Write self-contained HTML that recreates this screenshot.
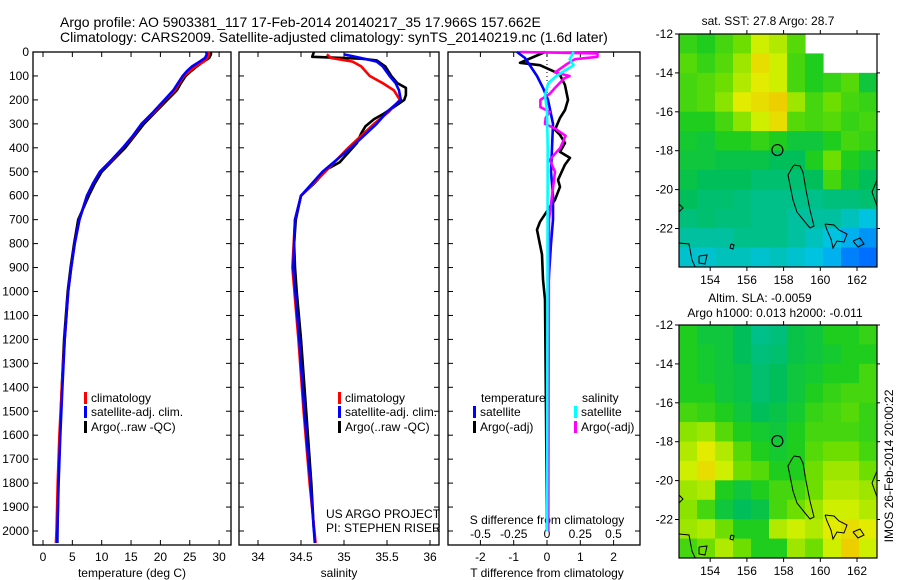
<!DOCTYPE html>
<html><head><meta charset="utf-8"><style>
body{margin:0;background:#fff;}
svg{display:block;font-family:"Liberation Sans",sans-serif;}
</style></head><body>
<svg id="fig" width="900" height="580" xmlns="http://www.w3.org/2000/svg">
<defs>
<clipPath id="clipTop"><rect x="679" y="34" width="198" height="233"/></clipPath>
<clipPath id="clipBot"><rect x="679" y="325" width="198" height="233"/></clipPath>
</defs>
<text x="60" y="27" font-size="14">Argo profile: AO 5903381_117 17-Feb-2014 20140217_35 17.966S 157.662E</text>
<text x="60" y="42" font-size="14">Climatology: CARS2009. Satellite-adjusted climatology: synTS_20140219.nc (1.6d later)</text>
<g id="g"></g>
</svg>
<script>
// ---------- data ----------
const depthT = [0,10,25,40,60,80,100,130,160,200,250,300,350,400,450,500,550,600,700,800,900,1000,1200,1400,1600,1800,2000,2050];
const argoT  = [28.6,28.6,28.3,27.3,26.2,25.2,24.3,23.5,22.8,21.2,19.2,17.2,15.6,14.0,12.0,10.0,8.8,7.8,6.0,5.3,4.7,4.2,3.6,3.2,2.9,2.6,2.45,2.45];
const climT  = [28.2,28.3,28.0,27.4,26.0,25.0,24.0,23.2,22.5,20.8,19.0,16.8,15.4,13.6,11.8,9.7,8.5,7.5,6.2,5.4,4.8,4.3,3.7,3.2,2.8,2.5,2.3,2.2];
const satT   = [27.8,27.9,27.6,26.7,25.4,24.5,23.8,23.0,22.2,20.7,18.8,16.8,15.3,13.6,11.7,9.7,8.5,7.5,6.2,5.4,4.8,4.3,3.7,3.3,2.95,2.65,2.45,2.4];

const depthSArgo = [0,20,28,35,60,100,130,150,180,200,230,260,280,310,340,380,420,460,490,550,600,700,800,900,1000,1200,1500,1800,2000];
const argoS      = [34.65,34.63,35.2,35.38,35.48,35.55,35.62,35.72,35.72,35.7,35.58,35.45,35.35,35.25,35.2,35.15,35.05,34.95,34.8,34.65,34.5,34.44,34.42,34.43,34.45,34.5,34.56,34.62,34.65];
const depthSClim = [10,25,40,60,100,130,160,200,250,300,400,500,600,700,900,1200,1500,1800,2050];
const climS      = [34.8,34.85,35.1,35.2,35.3,35.45,35.58,35.65,35.52,35.35,35.05,34.78,34.5,34.43,34.4,34.47,34.53,34.6,34.67];
const satS       = [35.0,35.2,35.38,35.45,35.53,35.6,35.64,35.66,35.5,35.38,35.08,34.75,34.5,34.43,34.41,34.48,34.54,34.61,34.66];

const depthDT = [0,45,55,83,96,138,200,242,275,325,346,380,417,442,470,534,563,617,646,709,742,784,846,950,1034,1500,2000];
const argoDT  = [-0.06,-0.81,-0.21,0.24,0.39,0.54,0.63,0.54,0.39,0.24,0.39,0.54,0.39,0.69,0.54,0.33,0.39,0.24,0.09,-0.21,-0.30,-0.24,-0.15,-0.12,-0.06,-0.03,0.0];
const depthDTs = [0,25,100,150,200,300,400,500,600,700,800,1000,2000];
const satDT    = [-0.9,-0.66,-0.3,-0.12,0.03,0.18,0.15,0.12,0.18,0.18,0.12,0.03,0.0];
const depthDS = [0,6,20,30,50,85,100,110,150,175,200,230,250,275,300,320,350,400,450,500,700,2000];
const argoDS  = [-0.2,0.38,0.38,0.21,0.15,0.06,0.17,0.13,0.06,0.02,-0.05,-0.05,0.02,-0.01,-0.015,0.06,0.14,0.1,0.02,0.06,0.015,0.01];
const depthDSs = [0,30,55,75,105,130,180,250,400,2000];
const satDS    = [0.2,0.17,0.2,0.14,0.06,0.01,-0.015,0.0,0.005,0.0];

const tempTicks = [0,5,10,15,20,25,30];
const salTicks = [34,34.5,35,35.5,36];
const sTicks = [-0.5,-0.25,0,0.25,0.5];
const sTickLabels = ["-0.5","-0.25","0","0.25","0.5"];
const dtTicks = [-2,-1,0,1,2];
const depthTicks = [0,100,200,300,400,500,600,700,800,900,1000,1100,1200,1300,1400,1500,1600,1700,1800,1900,2000];
const lonTicks = [154,156,158,160,162];
const latTicks = [-12,-14,-16,-18,-20,-22];

const sstGrid = [
[.58,.55,.6,.65,.75,.72,.62,null,null,null,null],
[.62,.58,.62,.7,.8,.75,.6,.55,null,null,null],
[.6,.62,.65,.72,.78,.75,.6,.55,.58,.62,.5],
[.6,.62,.68,.78,.8,.82,.7,.6,.65,.6,.58],
[.55,.55,.6,.68,.75,.8,.62,.6,.62,.58,.6],
[.52,.5,.55,.55,.58,.55,.5,.5,.55,.6,.58],
[.5,.5,.48,.48,.48,.45,.45,.55,.65,.55,.5],
[.48,.45,.45,.45,.42,.42,.42,.45,.6,.5,.45],
[.45,.42,.42,.4,.38,.38,.38,.38,.4,.4,.42],
[.4,.42,.4,.4,.38,.38,.35,.35,.35,.32,.28],
[.35,.35,.35,.38,.38,.38,.35,.32,.28,.25,.22],
[.3,.3,.32,.32,.3,.32,.3,.28,.25,.2,.18]];
const slaGrid = [
[.55,.5,.5,.45,.38,.4,.48,.5,.55,.55,.58],
[.55,.52,.5,.45,.4,.42,.48,.5,.52,.55,.55],
[.55,.52,.5,.48,.42,.45,.5,.52,.55,.55,.6],
[.55,.55,.5,.48,.42,.45,.5,.55,.58,.6,.6],
[.6,.58,.55,.5,.45,.48,.52,.58,.6,.62,.58],
[.68,.7,.62,.55,.52,.5,.55,.6,.6,.6,.58],
[.72,.78,.72,.62,.55,.52,.55,.62,.65,.65,.6],
[.75,.8,.75,.65,.62,.55,.55,.65,.7,.7,.65],
[.7,.72,.55,.5,.55,.6,.6,.65,.72,.72,.7],
[.68,.6,.5,.45,.48,.6,.65,.7,.75,.75,.72],
[.7,.72,.65,.55,.55,.72,.75,.72,.78,.8,.78],
[.6,.65,.72,.65,.55,.55,.7,.65,.75,.82,.75]];
const floatLon = 157.662, floatLat = -17.966;

// ---------- helpers ----------
const NS="http://www.w3.org/2000/svg";
const G=document.getElementById('g');
function el(tag,attrs,parent){const e=document.createElementNS(NS,tag);for(const k in attrs)e.setAttribute(k,attrs[k]);(parent||G).appendChild(e);return e;}
function txt(x,y,s,size,anchor){const t=el('text',{x:x,y:y,'font-size':size||12,'text-anchor':anchor||'start'});t.textContent=s;return t;}
const yD = d => 52 + d*0.2395;
const PT=52, PB=545;
const xT = t => 43 + t*5.87;
const xS = s => 258 + (s-34)*86;
const xDT = v => 547 + v*33.3;
const xDS = v => 547 + v*133;

function frame(x0,x1,name){
  const r=el('rect',{x:x0,y:PT,width:x1-x0,height:PB-PT,fill:'none',stroke:'#000','stroke-width':1.3});
  
  
  depthTicks.forEach(d=>{
    el('line',{x1:x0,x2:x0+5,y1:yD(d),y2:yD(d),stroke:'#000'});
    el('line',{x1:x1-5,x2:x1,y1:yD(d),y2:yD(d),stroke:'#000'});
  });
}
function xticks(vals,fx,labels,ly){
  vals.forEach((v,i)=>{
    const x=fx(v);
    el('line',{x1:x,x2:x,y1:PB,y2:PB-5,stroke:'#000'});
    el('line',{x1:x,x2:x,y1:PT,y2:PT+5,stroke:'#000'});
    const t=txt(x,ly,labels?labels[i]:String(v),12,'middle');
    
    
  });
}
function line(xs,ds,fx,color,name,w){
  let p='';
  xs.forEach((v,i)=>{if(v==null)return;p+=(p?'L':'M')+fx(v).toFixed(1)+','+yD(ds[i]).toFixed(1);});
  const e=el('path',{d:p,fill:'none',stroke:color,'stroke-width':w||2.6,'stroke-linejoin':'round'});
  
  
}
function legItem(x,y,color,label,name){
  el('rect',{x:x,y:y-10,width:3,height:12,fill:color});
  const t=txt(x+7,y,label,12);
  
  
}

// ---------- panel 1 ----------
frame(33,231,'temperature-panel');
depthTicks.forEach(d=>{
  const t=txt(29,yD(d)+4,String(d),12,'end');
  
  
});
xticks(tempTicks,xT,null,561);
const xt1=txt(132,577,'temperature (deg C)',12,'middle');


line(argoT,depthT,xT,'#000','argo-temperature-line');
line(climT,depthT,xT,'#f00','climatology-temperature-line');
line(satT,depthT,xT,'#00f','satellite-temperature-line');
legItem(84,402,'#f00','climatology','legend-climatology-t');
legItem(84,416,'#00f','satellite-adj. clim.','legend-satellite-t');
legItem(84,431,'#000','Argo(..raw -QC)','legend-argo-t');

// ---------- panel 2 ----------
frame(239,439,'salinity-panel');
xticks(salTicks,xS,null,561);
const xt2=txt(339,577,'salinity',12,'middle');


line(argoS,depthSArgo,xS,'#000','argo-salinity-line');
line(climS,depthSClim,xS,'#f00','climatology-salinity-line');
line(satS,depthSClim,xS,'#00f','satellite-salinity-line');
legItem(338,402,'#f00','climatology','legend-climatology-s');
legItem(338,416,'#00f','satellite-adj. clim.','legend-satellite-s');
legItem(338,431,'#000','Argo(..raw -QC)','legend-argo-s');
const us=txt(326,518,'US ARGO PROJECT',12);


const pi=txt(326,532,'PI: STEPHEN RISER',12);



// ---------- panel 3 ----------
frame(448,640,'difference-panel');
el('line',{x1:xDT(0),x2:xDT(0),y1:yD(0),y2:yD(1000),stroke:'#000','stroke-dasharray':'1,3'});
xticks(dtTicks,xDT,null,561);
sTicks.forEach((v,i)=>{
  const t=txt(xDS(v),538,sTickLabels[i],12,'middle');
  
  
});
const st=txt(547,524,'S difference from climatology',12,'middle');


const tt=txt(547,577,'T difference from climatology',12,'middle');


line(argoDT,depthDT,xDT,'#000','argo-t-diff-line');
line(satDT,depthDTs,xDT,'#00f','satellite-t-diff-line');
line(argoDS,depthDS,xDS,'#f0f','argo-s-diff-line');
line(satDS,depthDSs,xDS,'#0ff','satellite-s-diff-line');
const lt=txt(481,402,'temperature',12);


const ls=txt(582,402,'salinity',12);


legItem(473,416,'#00f','satellite','legend-t-satellite');
legItem(473,431,'#000','Argo(-adj)','legend-t-argo');
legItem(574,416,'#0ff','satellite','legend-s-satellite');
legItem(574,431,'#f0f','Argo(-adj)','legend-s-argo');

// ---------- maps ----------
const stops=[[0.1,[0,0,170]],[0.18,[0,110,255]],[0.27,[0,195,235]],[0.36,[0,192,150]],[0.45,[0,190,90]],[0.55,[30,205,30]],[0.65,[110,222,0]],[0.77,[225,242,0]],[0.9,[255,150,0]]];
function cmap(v){
  if(v<=stops[0][0])return 'rgb('+stops[0][1]+')';
  for(let i=1;i<stops.length;i++){if(v<=stops[i][0]){const a=stops[i-1],b=stops[i],f=(v-a[0])/(b[0]-a[0]);
    return 'rgb('+a[1].map((c,k)=>Math.round(c+(b[1][k]-c)*f)).join(',')+')';}}
  return 'rgb('+stops[stops.length-1][1]+')';
}
const mapX0=679,mapW=198,mapH=233;
const lonX = lon => mapX0 + (lon-152.3)*18.35;
function drawMap(y0,grid,name,clip){
  const g=el('g',{});
  
  
  const inner=el('g',{'clip-path':'url(#'+clip+')'},g);
  const rows=grid.length, cols=grid[0].length, cw=mapW/cols, ch=mapH/rows;
  grid.forEach((row,r)=>row.forEach((v,c)=>{
    if(v==null)return;
    const cell=el('rect',{x:mapX0+c*cw,y:y0+r*ch,width:cw+0.6,height:ch+0.6,fill:cmap(v)},inner);
    
    
  }));
  const latY = lat => y0 + (-12-lat)*19.45;
  const coasts=[
    [[115,131],[121,132],[124,138],[127,156],[131,176],[135,192],[131,194],[126,188],[118,178],[114,166],[111,151],[109,141],[113,134],[115,131]],
    [[0,209],[10,210],[13,226],[18,237],[10,245],[0,250]],
    [[20,222],[28,221],[26,230],[20,229],[20,222]],
    [[146,190],[155,191],[160,196],[168,200],[165,208],[158,207],[154,214],[152,205],[148,196],[146,190]],
    [[174,207],[181,204],[185,210],[179,213],[174,207]],
    [[198,146],[193,158],[198,172]],
    [[0,170],[4,174],[0,178]],
    [[52,210],[55,211],[54,215],[51,214],[52,210]],
    [[0,255],[8,263]]
  ];
  coasts.forEach(c=>{
    const p=c.map((q,i)=>(i?'L':'M')+(mapX0+q[0])+','+(y0+q[1])).join('');
    el('path',{d:p,fill:'none',stroke:'#000','stroke-width':1},inner);
  });
  const fc=el('circle',{cx:lonX(floatLon),cy:latY(floatLat),r:5.5,fill:'none',stroke:'#000','stroke-width':1.2},g);
  
  
  el('rect',{x:mapX0,y:y0,width:mapW,height:mapH,fill:'none',stroke:'#000','stroke-width':1.2},g);
  lonTicks.forEach(l=>{
    const x=lonX(l);
    el('line',{x1:x,x2:x,y1:y0,y2:y0-4,stroke:'#000'},g);
    el('line',{x1:x,x2:x,y1:y0+mapH,y2:y0+mapH+4,stroke:'#000'},g);
    const t=txt(x,y0+mapH+17,String(l),12,'middle');
    
    
  });
  latTicks.forEach(l=>{
    const y=latY(l);
    el('line',{x1:mapX0,x2:mapX0-4,y1:y,y2:y,stroke:'#000'},g);
    el('line',{x1:mapX0+mapW,x2:mapX0+mapW+3,y1:y,y2:y,stroke:'#000'},g);
    const t=txt(mapX0-6,y+4,String(l),12,'end');
    
    
  });
}
drawMap(34,sstGrid,'sst-map','clipTop');
drawMap(325,slaGrid,'sla-map','clipBot');
const m1=txt(768,25,'sat. SST: 27.8 Argo: 28.7',12,'middle');


const m2=txt(760,302,'Altim. SLA: -0.0059',12,'middle');


const m3=txt(775,317,'Argo h1000: 0.013 h2000: -0.011',12,'middle');


const im=txt(0,0,'IMOS 26-Feb-2014 20:00:22',12,'middle');
im.setAttribute('transform','translate(893,466) rotate(-90)');


</script>
</body></html>
